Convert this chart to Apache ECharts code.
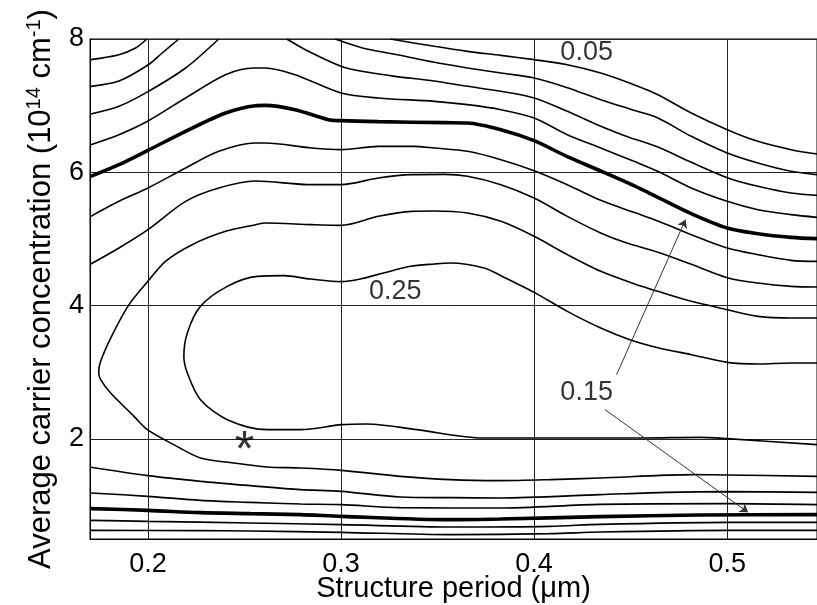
<!DOCTYPE html>
<html>
<head>
<meta charset="utf-8">
<script src="https://cdn.jsdelivr.net/npm/echarts@6/dist/echarts.min.js"></script>
<style>
  html, body { margin: 0; padding: 0; background: #fff; }
  #chart { width: 817px; height: 605px; }
</style>
</head>
<body>
<div id="chart"></div>
<script>
// Axis ticks
const xTicks = [0.2, 0.3, 0.4, 0.5];
const yTicks = [2, 4, 6, 8];

// Contour lines: [structure period (um), carrier concentration (1e14 cm^-1)]
const lvl050a = [[0.1704,7.69],[0.185,7.765],[0.1936,7.865],[0.1995,8.0]];
const lvl050b = [[0.3256,8.0],[0.3483,7.89],[0.3655,7.815],[0.3828,7.755],[0.4,7.69],[0.4172,7.615],[0.4345,7.49],[0.4517,7.315],[0.4641,7.165],[0.4814,6.89],[0.5,6.64],[0.5159,6.465],[0.5331,6.34],[0.5465,6.275]];
const lvl075a = [[0.1704,7.29],[0.185,7.37],[0.2,7.61],[0.2074,7.79],[0.216,8.0]];
const lvl075b = [[0.297,8.0],[0.3107,7.87],[0.3279,7.77],[0.3483,7.65],[0.3655,7.565],[0.3828,7.49],[0.4,7.415],[0.4172,7.27],[0.4345,7.09],[0.4517,6.93],[0.4641,6.815],[0.4814,6.54],[0.5,6.29],[0.5159,6.14],[0.5331,6.015],[0.5465,5.965]];
const lvl100a = [[0.1704,6.875],[0.185,6.99],[0.2,7.21],[0.2195,7.565],[0.2367,8.0]];
const lvl100b = [[0.2719,8.0],[0.2831,7.815],[0.3,7.59],[0.3107,7.515],[0.3279,7.44],[0.3483,7.37],[0.3655,7.29],[0.3828,7.215],[0.4,7.115],[0.4172,6.915],[0.4345,6.69],[0.4469,6.55],[0.4641,6.38],[0.4814,6.15],[0.5,5.92],[0.5159,5.79],[0.5331,5.69],[0.5465,5.655]];
const lvl125up = [[0.1704,6.415],[0.185,6.565],[0.2,6.77],[0.2195,7.115],[0.2402,7.465],[0.2548,7.565],[0.2607,7.565],[0.2762,7.465],[0.3,7.19],[0.3193,7.115],[0.3483,7.065],[0.3655,7.015],[0.3828,6.94],[0.4,6.815],[0.4172,6.565],[0.4345,6.365],[0.4517,6.165],[0.4641,6.015],[0.4814,5.765],[0.5,5.565],[0.5159,5.44],[0.5331,5.365],[0.5465,5.325]];
const lvl150up = [[0.1704,5.94],[0.185,6.115],[0.2,6.33],[0.2195,6.615],[0.2402,6.89],[0.2557,7.0],[0.2607,7.005],[0.2762,6.94],[0.2934,6.79],[0.3,6.775],[0.3193,6.76],[0.3538,6.745],[0.3655,6.74],[0.3828,6.64],[0.4,6.475],[0.4172,6.235],[0.4345,6.02],[0.4517,5.80],[0.4641,5.625],[0.4814,5.38],[0.5,5.165],[0.5159,5.08],[0.5331,5.025],[0.5465,5.005]];
const lvl175up = [[0.1704,5.34],[0.185,5.565],[0.2,5.765],[0.2195,6.065],[0.2367,6.315],[0.2557,6.44],[0.2607,6.44],[0.2848,6.365],[0.3,6.34],[0.3193,6.39],[0.3375,6.39],[0.3483,6.365],[0.3655,6.315],[0.3828,6.19],[0.4,6.025],[0.4172,5.815],[0.4345,5.58],[0.4517,5.40],[0.4641,5.27],[0.4814,5.065],[0.5,4.865],[0.5159,4.765],[0.5331,4.68],[0.5465,4.665]];
const lvl200up = [[0.1704,4.625],[0.185,4.865],[0.2,5.14],[0.2195,5.565],[0.2367,5.765],[0.2557,5.87],[0.2848,5.815],[0.3,5.815],[0.3193,5.915],[0.3365,5.965],[0.3538,5.97],[0.3655,5.94],[0.3828,5.815],[0.4,5.615],[0.4172,5.34],[0.4345,5.09],[0.4469,4.95],[0.4641,4.80],[0.4814,4.62],[0.5,4.42],[0.5159,4.34],[0.5331,4.29],[0.5465,4.28]];
const lvl225 = [[0.5465,3.815],[0.5331,3.815],[0.5159,3.84],[0.5,3.94],[0.4814,4.065],[0.4641,4.215],[0.4517,4.33],[0.4345,4.515],[0.4172,4.765],[0.4,5.04],[0.3828,5.265],[0.3655,5.39],[0.3483,5.42],[0.3365,5.415],[0.3193,5.34],[0.3,5.205],[0.2848,5.215],[0.2607,5.24],[0.2557,5.215],[0.2402,5.115],[0.2229,4.915],[0.2091,4.665],[0.2,4.365],[0.1902,4.015],[0.1816,3.565],[0.1755,3.165],[0.1745,3.0],[0.1755,2.89],[0.1807,2.69],[0.1928,2.34],[0.1997,2.14],[0.2134,1.915],[0.2272,1.715],[0.2445,1.64],[0.2617,1.58],[0.279,1.565],[0.3002,1.53],[0.3307,1.44],[0.3565,1.39],[0.3824,1.375],[0.4082,1.39],[0.4341,1.415],[0.4828,1.465],[0.5,1.46],[0.5465,1.44]];
const lvl250 = [[0.5465,3.14],[0.5331,3.14],[0.5159,3.125],[0.5,3.15],[0.4814,3.265],[0.4641,3.37],[0.4496,3.49],[0.4345,3.665],[0.4172,3.915],[0.4,4.2],[0.3828,4.45],[0.3741,4.565],[0.3569,4.64],[0.3483,4.625],[0.3358,4.59],[0.322,4.49],[0.31,4.40],[0.3,4.36],[0.2841,4.40],[0.2703,4.45],[0.2566,4.44],[0.2411,4.29],[0.2272,3.99],[0.2204,3.59],[0.2186,3.24],[0.2204,2.99],[0.2272,2.59],[0.2411,2.29],[0.2617,2.14],[0.279,2.14],[0.3002,2.215],[0.3134,2.225],[0.3393,2.14],[0.3737,2.015],[0.4082,2.015],[0.4565,2.015],[0.4858,2.025],[0.5,2.005],[0.5465,1.915]];
const lvl200lo = [[0.1704,1.575],[0.2,1.45],[0.2272,1.365],[0.2531,1.30],[0.279,1.24],[0.3002,1.215],[0.3307,1.13],[0.3565,1.12],[0.3824,1.115],[0.4341,1.165],[0.4686,1.20],[0.5,1.21],[0.5465,1.20]];
const lvl175lo = [[0.1704,1.19],[0.2,1.14],[0.2272,1.08],[0.2531,1.05],[0.279,1.025],[0.3002,1.015],[0.3307,0.97],[0.3824,0.965],[0.4341,1.02],[0.5,1.03],[0.5465,1.015]];
const lvl150lo = [[0.1704,0.955],[0.2,0.93],[0.2272,0.895],[0.2531,0.88],[0.279,0.865],[0.3002,0.84],[0.3565,0.79],[0.3824,0.80],[0.4341,0.835],[0.4858,0.86],[0.5465,0.865]];
const lvl125lo = [[0.1704,0.78],[0.2,0.765],[0.2531,0.74],[0.3002,0.715],[0.3565,0.68],[0.4082,0.69],[0.4341,0.72],[0.5,0.75],[0.5465,0.75]];
const lvl100lo = [[0.1704,0.63],[0.2272,0.625],[0.2531,0.62],[0.3002,0.60],[0.3565,0.565],[0.4082,0.58],[0.4341,0.605],[0.5,0.63],[0.5465,0.63]];

// Contour level tags and the marked operating point
const levelTags = [
  { name: '0.05', value: [0.4272, 7.80] },
  { name: '0.25', value: [0.3281, 4.21] },
  { name: '0.15', value: [0.4272, 2.70] }
];
const markedPoint = [[0.25, 1.975]];
// Pointers from the 0.15 tag to both 0.15 contours
const pointerUp = [[0.4427, 2.965], [0.4784, 5.29]];
const pointerDown = [[0.4367, 2.44], [0.5108, 0.90]];

const FONT = 'Liberation Sans, Arial, Helvetica, sans-serif';

function contour(points, thick) {
  return {
    type: 'line',
    data: points,
    symbol: 'none',
    smooth: 0.3,
    silent: true,
    z: thick ? 4 : 3,
    lineStyle: { color: '#000', width: thick ? 3.6 : 1.6 }
  };
}

const thinSets = [lvl050a, lvl050b, lvl075a, lvl075b, lvl100a, lvl100b, lvl125up,
  lvl175up, lvl200up, lvl225, lvl250, lvl200lo, lvl175lo, lvl125lo, lvl100lo];
const thickSets = [lvl150up, lvl150lo];

const series = thinSets.map(p => contour(p, false))
  .concat(thickSets.map(p => contour(p, true)));

series.push({
  type: 'scatter',
  data: levelTags,
  symbolSize: 0,
  silent: true,
  z: 6,
  label: {
    show: true,
    position: 'inside',
    formatter: '{b}',
    color: '#000',
    fontFamily: FONT,
    fontSize: 27
  },
  markLine: {
    silent: true,
    symbol: ['none', 'arrow'],
    symbolSize: 8,
    label: { show: false },
    lineStyle: { color: '#333', width: 1, type: 'solid' },
    data: [
      [{ coord: pointerUp[0], lineStyle: { curveness: 0.05 } }, { coord: pointerUp[1] }],
      [{ coord: pointerDown[0] }, { coord: pointerDown[1] }]
    ]
  }
});

series.push({
  type: 'scatter',
  data: markedPoint,
  symbolSize: 0,
  silent: true,
  z: 6,
  label: {
    show: true,
    position: 'inside',
    formatter: '*',
    color: '#000',
    fontFamily: FONT,
    fontSize: 50,
    offset: [0, 12]
  }
});

const chart = echarts.init(document.getElementById('chart'), null, { renderer: 'canvas' });
chart.setOption({
  animation: false,
  backgroundColor: '#fff',
  grid: {
    left: 90, top: 39, right: 0, bottom: 66,
    containLabel: false,
    outerBoundsMode: 'none',
    show: true, borderColor: '#000', borderWidth: 1, backgroundColor: 'transparent'
  },
  xAxis: {
    type: 'value',
    min: 0.17,
    max: 0.5465,
    name: 'Structure period (\u03bcm)',
    nameLocation: 'middle',
    nameMoveOverlap: false,
    nameGap: 35,
    nameTextStyle: { color: '#000', fontFamily: FONT, fontSize: 29 },
    axisLine: { show: true, lineStyle: { color: '#000', width: 1 } },
    axisTick: { show: false, customValues: xTicks },
    axisLabel: { customValues: xTicks, color: '#000', fontFamily: FONT, fontSize: 27, margin: 12 },
    splitLine: { show: true, lineStyle: { color: '#222', width: 1 } }
  },
  yAxis: {
    type: 'value',
    min: 0.5,
    max: 8,
    name: 'Average carrier concentration (10{sup|14} cm{sup|-1})',
    nameLocation: 'middle',
    nameMoveOverlap: false,
    nameGap: 31,
    nameTextStyle: {
      color: '#000', fontFamily: FONT, fontSize: 31, lineHeight: 35,
      rich: { sup: { fontSize: 20, fontFamily: FONT, color: '#000', verticalAlign: 'top', lineHeight: 20 } }
    },
    axisLine: { show: true, lineStyle: { color: '#000', width: 1 } },
    axisTick: { show: false, customValues: yTicks },
    axisLabel: { customValues: yTicks, color: '#000', fontFamily: FONT, fontSize: 27, margin: 6 },
    splitLine: { show: true, lineStyle: { color: '#222', width: 1 } }
  },
  series: series
});
</script>
</body>
</html>
